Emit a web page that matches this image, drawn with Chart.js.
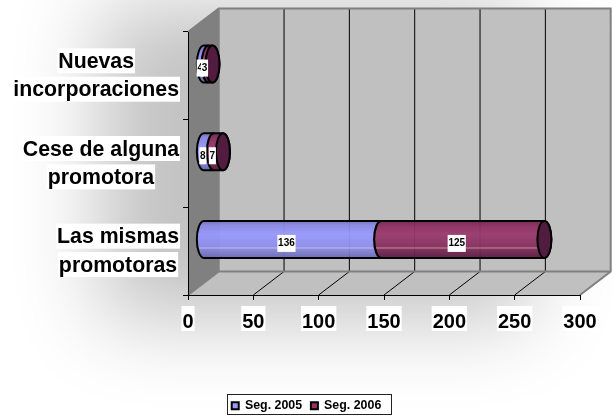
<!DOCTYPE html>
<html>
<head>
<meta charset="utf-8">
<style>
  html, body { margin: 0; padding: 0; background: #fff; }
  #wrap { position: relative; width: 614px; height: 416px; }
</style>
<script src="https://cdn.jsdelivr.net/npm/chart.js@4/dist/chart.umd.js"></script>
</head>
<body>
<div id="wrap"><canvas id="chart" width="614" height="416"></canvas></div>
<script>
const categories = [['Nuevas', 'incorporaciones'], ['Cese de alguna', 'promotora'], ['Las mismas', 'promotoras']];
const seg2005 = [4, 8, 136];
const seg2006 = [3, 7, 125];
const seriesColors = ['#9999ff', '#993366'];

const FONT = '"Liberation Sans", Arial, sans-serif';
const DX = 30.7, DY = -23.5;   // depth of the 3d box
const RX = 7;                  // end of the cylinder

function shade(ctx, top, bottom, stops) {
  const g = ctx.createLinearGradient(0, top, 0, bottom);
  stops.forEach(s => g.addColorStop(s[0], s[1]));
  return g;
}
const blueStops = [[0, '#7272c4'], [0.12, '#8a8ae4'], [0.35, '#9999ff'], [0.7, '#8e8eea'], [0.73, '#b4b4ee'], [0.77, '#8888dc'], [1, '#6a6ab4']];
const redStops = [[0, '#6e2450'], [0.12, '#8a2f60'], [0.35, '#9b3a6e'], [0.7, '#86305c'], [0.73, '#b47a98'], [0.77, '#7e2a56'], [1, '#581c42']];

// stacked bar drawn as a cylinder sitting half way into the box
class CylinderBar extends Chart.BarElement {
  draw(ctx) {
    const p = this.getProps(['x', 'y', 'base', 'height']);
    const top = p.y - p.height / 2 + DY / 2;
    const bottom = p.y + p.height / 2 + DY / 2;
    const mid = (top + bottom) / 2;
    const ry = p.height / 2;
    const left = p.base + DX / 2;
    const right = p.x + DX / 2;
    const last = this.options.backgroundColor === seriesColors[1];

    ctx.save();
    ctx.beginPath();
    ctx.moveTo(left, top);
    ctx.ellipse(left, mid, RX, ry, 0, -Math.PI / 2, Math.PI / 2, true);
    ctx.lineTo(right, bottom);
    ctx.ellipse(right, mid, RX, ry, 0, Math.PI / 2, -Math.PI / 2, last);
    ctx.closePath();
    ctx.fillStyle = shade(ctx, top, bottom, last ? redStops : blueStops);
    ctx.globalAlpha = 0.95;
    ctx.fill();
    ctx.globalAlpha = 1;
    ctx.strokeStyle = '#000';
    ctx.lineWidth = 2;
    ctx.stroke();
    if (last) {
      ctx.beginPath();
      ctx.ellipse(right, mid, RX, ry, 0, 0, Math.PI * 2);
      ctx.fillStyle = '#511c40';
      ctx.fill();
      ctx.stroke();
    }
    ctx.restore();
  }
}
CylinderBar.id = 'cylinderBar';
CylinderBar.defaults = Chart.BarElement.defaults;
class CylinderController extends Chart.BarController {}
CylinderController.id = 'cylinder';
CylinderController.defaults = Object.assign({}, Chart.BarController.defaults, { dataElementType: 'cylinderBar' });
Chart.register(CylinderBar, CylinderController);

const boxPlugin = {
  id: 'box',
  afterLayout(chart) {
    // legend is centred on the whole page, not on the padded area
    chart.legend.left += 16.5;
    chart.legend.right += 16.5;
  },
  beforeDraw(chart) {
    const ctx = chart.ctx, a = chart.chartArea, x = chart.scales.x, y = chart.scales.y;
    ctx.save();
    ctx.fillStyle = '#fff';
    ctx.fillRect(0, 0, chart.width, chart.height);

    // soft shadow behind the plot, only the blur lands on the canvas
    ctx.save();
    ctx.shadowColor = 'rgba(0,0,0,0.24)';
    ctx.shadowBlur = 80;
    ctx.shadowOffsetX = 2000;
    ctx.fillStyle = '#000';
    ctx.fillRect(100 - 2000, 5, 430, 315);
    ctx.restore();

    // floor, side wall, back wall
    ctx.fillStyle = '#c0c0c0';
    ctx.beginPath();
    ctx.moveTo(a.left, a.bottom);
    ctx.lineTo(a.left + DX, a.bottom + DY);
    ctx.lineTo(a.right + DX, a.bottom + DY);
    ctx.lineTo(a.right, a.bottom);
    ctx.closePath();
    ctx.fill();
    ctx.fillStyle = '#808080';
    ctx.beginPath();
    ctx.moveTo(a.left, a.top);
    ctx.lineTo(a.left + DX, a.top + DY);
    ctx.lineTo(a.left + DX, a.bottom + DY);
    ctx.lineTo(a.left, a.bottom);
    ctx.closePath();
    ctx.fill();
    ctx.fillStyle = '#c0c0c0';
    ctx.fillRect(a.left + DX, a.top + DY, a.right - a.left, a.bottom - a.top);

    // gridlines on back wall and floor
    ctx.lineWidth = 1;
    ctx.strokeStyle = '#000';
    x.ticks.forEach((t, i) => {
      if (i === 0 || i === x.ticks.length - 1) return;
      const px = x.getPixelForTick(i);
      ctx.beginPath();
      ctx.moveTo(px + DX, a.top + DY);
      ctx.lineTo(px + DX, a.bottom + DY);
      ctx.moveTo(px + DX, a.bottom + DY);
      ctx.lineTo(px, a.bottom);
      ctx.stroke();
    });

    // grey edges of the box
    ctx.strokeStyle = '#808080';
    ctx.lineWidth = 2;
    ctx.beginPath();
    ctx.moveTo(a.left, a.top);
    ctx.lineTo(a.left + DX, a.top + DY);
    ctx.lineTo(a.right + DX, a.top + DY);
    ctx.lineTo(a.right + DX, a.bottom + DY);
    ctx.lineTo(a.right, a.bottom);
    ctx.moveTo(a.left + DX, a.top + DY);
    ctx.lineTo(a.left + DX, a.bottom + DY);
    ctx.lineTo(a.right + DX, a.bottom + DY);
    ctx.moveTo(a.left + DX, a.bottom + DY);
    ctx.lineTo(a.left, a.bottom);
    ctx.stroke();

    // white boxes behind the number ticks
    ctx.fillStyle = '#fff';
    ctx.font = 'bold 20px ' + FONT;
    x.ticks.forEach((t, i) => {
      const w = ctx.measureText(String(t.value)).width + 2;
      ctx.fillRect(x.getPixelForTick(i) - w / 2, 306, w, 25);
    });

    // category labels, each block centred on itself and ending at the axis
    ctx.font = 'bold 21.3px ' + FONT;
    ctx.textAlign = 'center';
    ctx.textBaseline = 'alphabetic';
    categories.forEach((lines, i) => {
      const widest = Math.max(...lines.map(l => ctx.measureText(l).width));
      const cx = 179 - widest / 2;
      const base = y.getPixelForTick(i) + 6.3;
      lines.forEach((line, j) => {
        const w = ctx.measureText(line).width + 2;
        const ly = base + (j === 0 ? -14.2 : 14.2);
        ctx.fillStyle = '#fff';
        ctx.fillRect(cx - w / 2, ly - 19.6, w, 25);
        ctx.fillStyle = '#000';
        ctx.fillText(line, cx, ly);
      });
    });

    // legend frame
    ctx.fillStyle = '#fff';
    ctx.fillRect(227, 394, 165, 21);
    ctx.strokeStyle = '#222';
    ctx.lineWidth = 1;
    ctx.strokeRect(227.5, 394.5, 164, 20);
    ctx.restore();
  },
  afterDatasetsDraw(chart) {
    // value labels, white boxes placed the way the original does it
    const ctx = chart.ctx;
    ctx.save();
    ctx.font = 'bold 10px ' + FONT;
    ctx.textAlign = 'center';
    ctx.textBaseline = 'middle';
    chart.data.datasets.forEach((ds, d) => {
      chart.getDatasetMeta(d).data.forEach((el, i) => {
        const cx = (el.base + el.x) / 2 + DX / 2 - 6;
        const cy = el.y + DY / 2 + 4;
        const text = String(ds.data[i]);
        const w = ctx.measureText(text).width + 1.5;
        ctx.fillStyle = '#fff';
        ctx.fillRect(cx - w / 2, cy - 8.5, w, 17);
        ctx.fillStyle = '#000';
        ctx.fillText(text, cx, cy);
      });
    });
    ctx.restore();
  }
};

new Chart(document.getElementById('chart'), {
  type: 'cylinder',
  data: {
    labels: categories,
    datasets: [
      { label: 'Seg. 2005', data: seg2005, backgroundColor: seriesColors[0], barThickness: 37 },
      { label: 'Seg. 2006', data: seg2006, backgroundColor: seriesColors[1], barThickness: 37 }
    ]
  },
  options: {
    indexAxis: 'y',
    responsive: false,
    animation: false,
    layout: { padding: { top: 32, right: 34, left: 0, bottom: -6 } },
    scales: {
      x: {
        stacked: true,
        min: 0,
        max: 300,
        afterFit(s) { s.height = 95.8; },
        ticks: {
          stepSize: 50,
          maxRotation: 0,
          color: '#000',
          padding: 10,
          font: { family: FONT, size: 20, weight: 'bold' }
        },
        grid: { drawOnChartArea: false, color: '#000', tickLength: 5 },
        border: { color: '#000', width: 1 }
      },
      y: {
        stacked: true,
        afterFit(s) { s.width = 188; },
        ticks: { display: false },
        grid: { drawOnChartArea: false, color: '#000', tickLength: 5, offset: true },
        border: { color: '#000', width: 1 }
      }
    },
    plugins: {
      legend: {
        position: 'bottom',
        labels: {
          boxWidth: 7,
          boxHeight: 7,
          padding: 8.8,
          color: '#000',
          font: { family: FONT, size: 12.4, weight: 'bold' },
          generateLabels(chart) {
            return chart.data.datasets.map((ds, i) => ({
              text: ds.label,
              fillStyle: ds.backgroundColor,
              strokeStyle: '#000',
              lineWidth: 2,
              datasetIndex: i
            }));
          }
        }
      },
      tooltip: { enabled: false }
    }
  },
  plugins: [boxPlugin]
});
</script>
</body>
</html>
